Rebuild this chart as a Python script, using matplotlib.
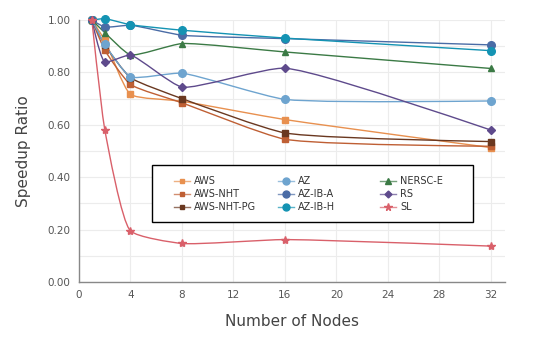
import numpy as np
import matplotlib
matplotlib.use("Agg")
import matplotlib.pyplot as plt
from matplotlib.path import Path
from matplotlib.patches import PathPatch, Rectangle
from matplotlib.lines import Line2D

nodes = [1, 2, 4, 8, 16, 32]
aws = [1.0, 0.923, 0.716, 0.690, 0.620, 0.513]
aws_nht = [1.0, 0.885, 0.754, 0.684, 0.545, 0.518]
aws_nht_pg = [1.0, 0.905, 0.780, 0.700, 0.569, 0.536]
az = [1.0, 0.907, 0.783, 0.797, 0.697, 0.691]
az_ib_a = [1.0, 0.973, 0.980, 0.942, 0.929, 0.905]
az_ib_h = [1.0, 1.005, 0.982, 0.961, 0.931, 0.883]
nersc_e = [1.0, 0.952, 0.867, 0.910, 0.878, 0.815]
rs = [1.0, 0.840, 0.866, 0.744, 0.816, 0.580]
sl = [1.0, 0.582, 0.195, 0.147, 0.162, 0.137]

series = [
    ("AWS", aws, "#e8904f", "s"),
    ("AWS-NHT", aws_nht, "#bf5f34", "s"),
    ("AWS-NHT-PG", aws_nht_pg, "#6a3820", "s"),
    ("AZ", az, "#6ea4cf", "o"),
    ("AZ-IB-A", az_ib_a, "#4a6ca6", "o"),
    ("AZ-IB-H", az_ib_h, "#1493b3", "o"),
    ("NERSC-E", nersc_e, "#3b7a45", "^"),
    ("RS", rs, "#5e4a8c", "D"),
    ("SL", sl, "#d9606a", "*"),
]
msize = {"s": 4, "o": 5.5, "^": 4.5, "D": 4, "*": 6}

fig = plt.figure(figsize=(5.47, 3.42), dpi=100)
W, H = 547, 342
left, right, top, bottom = 79, 505, 20, 282
ax = fig.add_axes([left / W, 1 - bottom / H, (right - left) / W, (bottom - top) / H])
ax.set_xlim(0, 33.1)
ax.set_ylim(0, 1.0)

ax.set_xticks(np.arange(0, 33, 4))
ax.set_yticks(np.arange(0, 1.01, 0.2))
ax.set_yticks(np.arange(0.1, 1.0, 0.2), minor=True)
ax.set_yticklabels([f"{v:.2f}" for v in np.arange(0, 1.01, 0.2)])
ax.grid(True, which="both", axis="y", color="#ececec", lw=0.8)
ax.grid(True, which="major", axis="x", color="#ececec", lw=0.8)
ax.set_axisbelow(True)
for s in ["top", "right"]:
    ax.spines[s].set_visible(False)
for s in ["left", "bottom"]:
    ax.spines[s].set_color("#888888")
    ax.spines[s].set_linewidth(1.0)
ax.tick_params(which="both", length=0, labelsize=7.5, colors="#555555", pad=6)
ax.set_xlabel("Number of Nodes", fontsize=11, color="#444444", labelpad=10)
ax.set_ylabel("Speedup Ratio", fontsize=11, color="#444444", labelpad=12)

fig.canvas.draw()
trans = ax.transData
inv = trans.inverted()


def make_tangent(p0, p1, p2, smooth=0.5):
    d1 = p0 - p1
    d2 = p2 - p1
    d1a = np.hypot(*d1) ** 0.5
    d2a = np.hypot(*d2) ** 0.5
    num = (d2a * d2a * d1 - d1a * d1a * d2) * smooth
    den1 = 3 * d2a * (d1a + d2a)
    den2 = 3 * d1a * (d1a + d2a)
    return p1 + num / den1, p1 - num / den2


def spline_path(xs, ys):
    pts = trans.transform(np.column_stack([xs, ys]))
    tangents = [make_tangent(pts[i - 1], pts[i], pts[i + 1]) for i in range(1, len(pts) - 1)]
    verts = [pts[0], tangents[0][0], pts[1]]
    codes = [Path.MOVETO, Path.CURVE3, Path.CURVE3]
    for i in range(2, len(pts) - 1):
        verts += [tangents[i - 2][1], tangents[i - 1][0], pts[i]]
        codes += [Path.CURVE4] * 3
    verts += [tangents[len(pts) - 3][1], pts[-1]]
    codes += [Path.CURVE3] * 2
    verts = inv.transform(np.array(verts))
    return Path(verts, codes)


for name, vals, color, mk in series:
    p = spline_path(np.array(nodes, float), np.array(vals, float))
    ax.add_patch(PathPatch(p, facecolor="none", edgecolor=color, lw=1.0, clip_on=False, zorder=2))
    ax.plot(nodes, vals, ls="none", marker=mk, ms=msize[mk], color=color, clip_on=False, zorder=3)

# legend (pixel layout, plotly-like fixed-width columns)
def fx(px):
    return px / W


def fy(py):
    return 1 - py / H


box = Rectangle((fx(152), fy(222)), fx(473) - fx(152), fy(165) - fy(222),
                transform=fig.transFigure, facecolor="white", edgecolor="black",
                lw=1.0, zorder=10)
fig.patches.append(box)
col_x = [174, 278, 380]
row_y = [181, 194, 207]
for i, (name, vals, color, mk) in enumerate(series):
    cx = col_x[i // 3]
    cy = row_y[i % 3]
    fig.add_artist(Line2D([fx(cx), fx(cx + 16)], [fy(cy), fy(cy)], transform=fig.transFigure,
                          color=color, lw=1.0, alpha=0.7, zorder=11))
    fig.add_artist(Line2D([fx(cx + 8)], [fy(cy)], transform=fig.transFigure, ls="none",
                          marker=mk, ms=msize[mk] - 0.5, color=color, zorder=12))
    fig.text(fx(cx + 20), fy(cy), name, fontsize=7, color="#333333", va="center",
             ha="left", zorder=12)

fig.savefig("out.png", dpi=100)
